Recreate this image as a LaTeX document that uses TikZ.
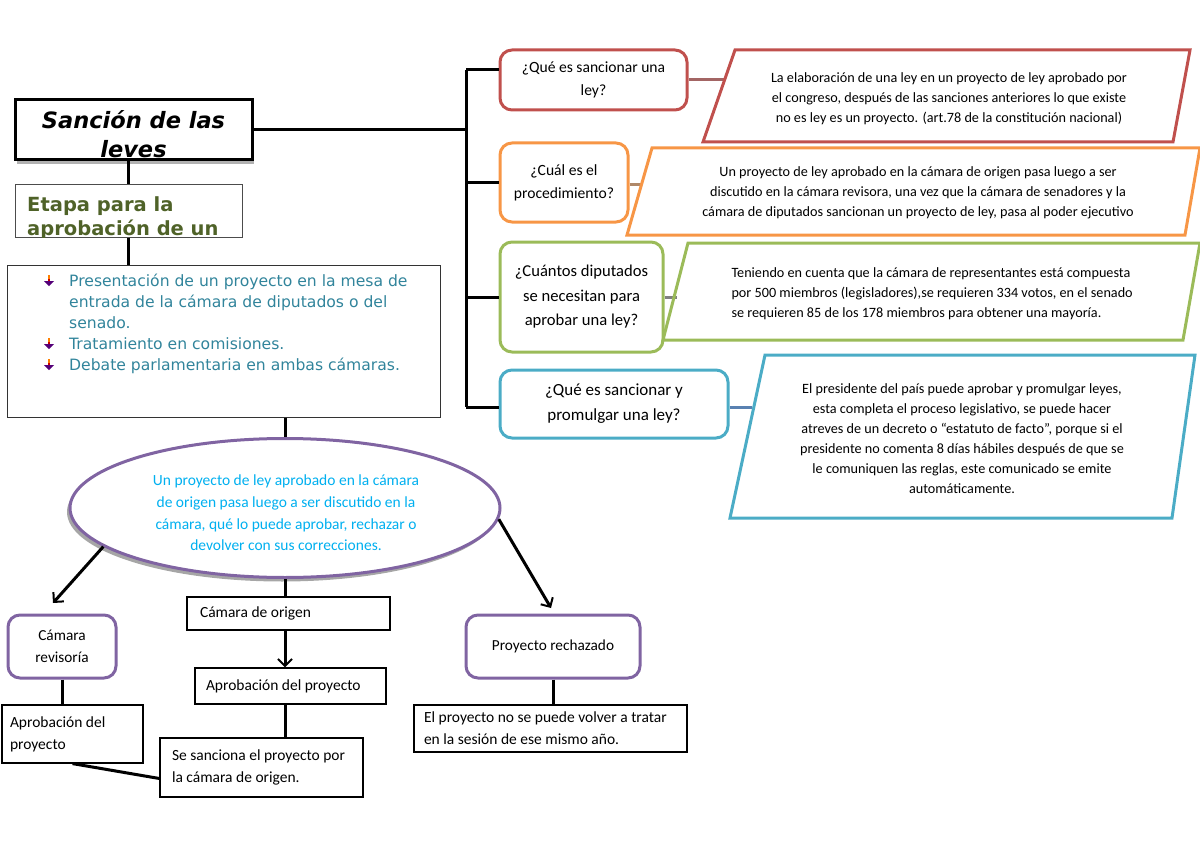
\documentclass[tikz,border=0pt]{standalone}
\usepackage{fontspec}
\setmainfont{Carlito}
\newfontfamily\verdfont{DejaVu Sans}[BoldFont={DejaVu Sans Bold}, ItalicFont={DejaVu Sans Oblique}, BoldItalicFont={DejaVu Sans Bold Oblique}]
\usetikzlibrary{shapes.geometric,arrows.meta,shadows}

\definecolor{qred}{HTML}{C0504D}
\definecolor{qorange}{HTML}{F79646}
\definecolor{qgreen}{HTML}{9BBB59}
\definecolor{qblue}{HTML}{4BACC6}
\definecolor{qpurple}{HTML}{8064A2}
\definecolor{linkblue}{HTML}{4F81BD}
\definecolor{listteal}{HTML}{31849B}
\definecolor{ideacyan}{HTML}{00B0F0}
\definecolor{etapagreen}{HTML}{4F6228}

\begin{document}
\begin{tikzpicture}[x=1pt, y=-1pt]
  \tikzset{
  link/.style = {line width=3pt, black},
  arrowlink/.style = {link, -{Straight Barb[length=7pt, width=14pt, line width=2pt]}},
  feed/.style = {line width=3pt, #1},
  flatbox/.style = {draw, line width=1.2pt, inner ysep=4pt, align=flush left,
    font=\fontsize{15.5}{22}\selectfont},
  question/.style = {draw=#1, line width=3pt, rounded corners=12pt, align=center,
    inner sep=4pt, font=\fontsize{15.6}{23}\selectfont},
  stage/.style = {draw=qpurple, line width=3pt, rounded corners=12pt, align=center,
    font=\fontsize{15.3}{22}\selectfont},
  answer/.style = {line width=3pt, line join=miter, #1},
  answertext/.style = {align=center, font=\fontsize{14.2}{20}\selectfont},
  pics/bulletmark/.style = {code={
    \fill[orange] (-1.2,-7) rectangle (1.2,-3);
    \fill[red!80!black] (-1.2,-3) rectangle (1.2,-1);
    \fill[blue!45!purple!80!black] (-5,-1) -- (5,-1) -- (0,4) -- cycle;
  }}}
  \useasboundingbox (0,0) rectangle (1200,848);

  \node[draw, line width=3pt, fill=white, minimum width=237pt, minimum height=60pt,
    drop shadow={shadow xshift=2pt, shadow yshift=-4pt, fill=gray!60, opacity=1}]
    (title) at (133.5,130) {};
  \node[align=center, inner sep=0pt, font=\verdfont\bfseries\itshape\fontsize{22.5}{29}\selectfont]
    (titletext) at (133.5,134) {Sanción de las\\leves};
  \node[draw=gray!60!black, line width=1pt, minimum width=227pt, minimum height=52pt]
    (etapa) at (128.5,211) {};
  \begin{scope}
    \clip (etapa.north west) rectangle (etapa.south east);
    \node[anchor=north west, inner sep=0pt, align=left, text=etapagreen,
      font=\verdfont\bfseries\fontsize{19.5}{24}\selectfont]
      (etapatext) at (27,196) {Etapa para la\\aprobación de un};
  \end{scope}
  \node[draw=black!80, line width=1pt, minimum width=433pt, minimum height=152pt]
    (steps) at (223.5,341) {};
  \node[anchor=north west, inner sep=0pt, align=left, text=listteal,
    font=\verdfont\fontsize{15.6}{21}\selectfont]
    (steplist) at (69,274) {Presentación de un proyecto en la mesa de\\
      entrada de la cámara de diputados o del\\senado.\\
      Tratamiento en comisiones.\\Debate parlamentaria en ambas cámaras.};
  \pic at (49,282) {bulletmark};
  \pic at (49,345) {bulletmark};
  \pic at (49,366) {bulletmark};

  \node[ellipse, draw=qpurple, line width=3pt, fill=white, minimum width=430pt,
    minimum height=139pt,
    drop shadow={shadow xshift=-3pt, shadow yshift=-4pt, fill=gray!70, opacity=1}]
    (idea) at (285,508) {};
  \node[align=center, text=ideacyan, font=\fontsize{15.5}{21.7}\selectfont]
    (ideatext) at (286,513) {Un proyecto de ley aprobado en la cámara\\de origen pasa
      luego a ser discutido en la\\cámara, qué lo puede aprobar, rechazar o\\devolver
      con sus correcciones.};

  \node[stage, minimum width=108pt, minimum height=63pt] (rev) at (62,646.5) {Cámara\\revisoría};
  \node[flatbox, minimum width=203pt, minimum height=33pt, text width=177pt, inner xsep=13pt]
    (origen) at (288.5,613.5) {Cámara de origen};
  \node[flatbox, minimum width=191pt, minimum height=36pt, text width=169pt, inner xsep=11pt]
    (aprob2) at (290.5,686) {Aprobación del proyecto};
  \node[flatbox, minimum width=141pt, minimum height=58pt, text width=125pt, inner xsep=8pt]
    (aprob1) at (72.5,734) {Aprobación del\hfill\\proyecto};
  \node[flatbox, minimum width=203pt, minimum height=59pt, text width=179pt, inner xsep=12pt]
    (sanc) at (261.5,767.5) {Se sanciona el proyecto por\hfill\\la cámara de origen.};
  \node[stage, minimum width=174pt, minimum height=63pt] (rej) at (553,646.5) {Proyecto rechazado};
  \node[flatbox, minimum width=273pt, minimum height=47pt, text width=253pt, inner xsep=10pt]
    (rejtext) at (550.5,728.5) {El proyecto no se puede volver a tratar\hfill\\en la sesión de ese mismo año.};

  \coordinate (revtip) at (53,603);
  \coordinate (rejtip) at (551,608);
  \draw[link] (etapa.north |- title.south) -- (etapa.north);
  \draw[link] (etapa.south) -- (etapa.south |- steps.north);
  \draw[link] (idea.north |- steps.south) -- (idea.north);
  \draw[arrowlink] (idea.192) -- (revtip);
  \draw[arrowlink] (idea.357) -- (rejtip);
  \draw[link] (idea.south) -- (idea.south |- origen.north);
  \draw[arrowlink] (idea.south |- origen.south) -- (idea.south |- aprob2.north);
  \draw[link] (idea.south |- aprob2.south) -- (idea.south |- sanc.north);
  \draw[link] (rev.south) -- (rev.south |- aprob1.north);
  \draw[link] (aprob1.south) -- ([yshift=-11pt]sanc.west);
  \draw[link] (rej.south) -- (rej.south |- rejtext.north);

  \node[question=qred, minimum width=187pt, minimum height=60pt] (q1) at (593.5,80)
    {¿Qué es sancionar una\\ley?};
  \node[question=qorange, minimum width=128pt, minimum height=79pt] (q2) at (564,182.5)
    {¿Cuál es el\\procedimiento?};
  \node[question=qgreen, minimum width=163pt, minimum height=110pt,
    font=\fontsize{16.6}{24.5}\selectfont] (q3) at (581.5,297)
    {¿Cuántos diputados\\se necesitan para\\aprobar una ley?};
  \node[question=qblue, minimum width=228pt, minimum height=68pt,
    font=\fontsize{17}{25}\selectfont] (q4) at (614,404)
    {¿Qué es sancionar y\\promulgar una ley?};

  \coordinate (spinetop) at (466,70);
  \coordinate (spinebot) at (466,407);
  \draw[link] (title.east) -- (title.east -| spinetop);
  \draw[link] (spinetop) -- (spinebot);
  \draw[link] (spinetop) -- (spinetop -| q1.west);
  \draw[link] (spinetop |- q2.west) -- (q2.west);
  \draw[link] (spinetop |- q3.west) -- (q3.west);
  \draw[link] (spinebot) -- (spinebot -| q4.west);

  \coordinate (a1edge) at (725,80);
  \coordinate (a2edge) at (641,185);
  \coordinate (a3edge) at (677,297);
  \coordinate (a4edge) at (752,407);
  \draw[feed=qred!55!gray] (q1.east) -- (a1edge);
  \draw[feed=qorange!40!gray] (q2.east |- a2edge) -- (a2edge);
  \draw[feed=gray] (q3.east) -- (a3edge);
  \draw[feed=linkblue!80!gray] (q4.east |- a4edge) -- (a4edge);

  \draw[answer=qred] (735,50) -- (1190,50) -- (1173,142) -- (703,142) -- cycle;
  \draw[answer=qorange] (652,148) -- (1200,148) -- (1185,235) -- (627,235) -- cycle;
  \draw[answer=qgreen] (688,243) -- (1200,243) -- (1183,340) -- (663,340) -- cycle;
  \draw[answer=qblue] (765,355) -- (1195,355) -- (1172,518) -- (730,518) -- cycle;

  \node[answertext] (a1) at (949,99) {La elaboración de una ley en un proyecto de ley aprobado por\\
    el congreso, después de las sanciones anteriores lo que existe\\
    no es ley es un proyecto. (art.78 de la constitución nacional)};
  \node[answertext] (a2) at (918,193) {Un proyecto de ley aprobado en la cámara de origen pasa luego a ser\\
    discutido en la cámara revisora, una vez que la cámara de senadores y la\\
    cámara de diputados sancionan un proyecto de ley, pasa al poder ejecutivo};
  \node[answertext, align=left, anchor=west] (a3) at (728,294)
    {Teniendo en cuenta que la cámara de representantes está compuesta\\
    por 500 miembros (legisladores),se requieren 334 votos, en el senado\\
    se requieren 85 de los 178 miembros para obtener una mayoría.};
  \node[answertext] (a4) at (962,439) {El presidente del país puede aprobar y promulgar leyes,\\
    esta completa el proceso legislativo, se puede hacer\\
    atreves de un decreto o “estatuto de facto”, porque si el\\
    presidente no comenta 8 días hábiles después de que se\\
    le comuniquen las reglas, este comunicado se emite\\
    automáticamente.};
\end{tikzpicture}
\end{document}
